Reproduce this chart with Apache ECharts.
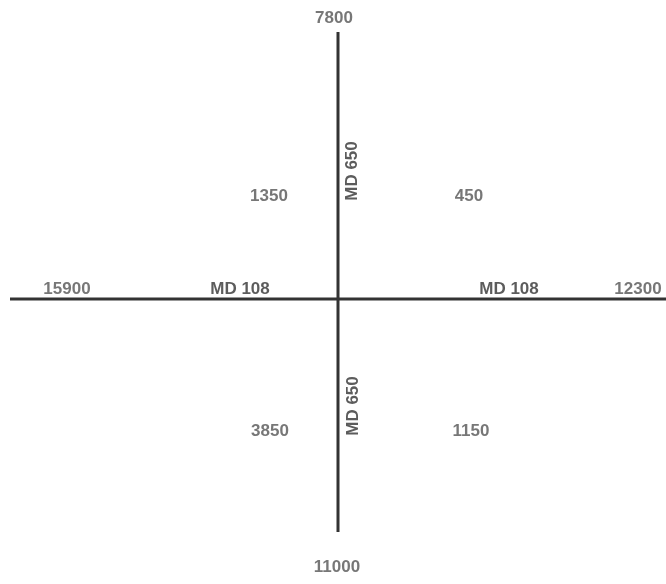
<!DOCTYPE html>
<html>
<head>
<meta charset="utf-8">
<script src="https://cdn.jsdelivr.net/npm/echarts@6/dist/echarts.min.js"></script>
<style>html,body{margin:0;padding:0;background:#fff}#c{width:666px;height:584px}</style>
</head>
<body>
<div id="c"></div>
<script>
// Data
const approachNames = ['North', 'South', 'West', 'East'];
const approachVolumes = [7800, 11000, 15900, 12300];
const quadrantNames = ['NW', 'NE', 'SW', 'SE'];
const quadrantVolumes = [1350, 450, 3850, 1150];
const roadLabels = ['MD 108', 'MD 108', 'MD 650', 'MD 650'];

// Layout (diagram units, intersection at 0,0)
const approachPos = [[-4, 281], [-1, -268], [-271, 10], [300, 10]];
const quadrantPos = [[-69, 103], [131, 103], [-68, -132], [133, -132]];
const roadPos = [[-98, 10], [171, 10], [14, 128], [15, -107]];
const roadRotate = [0, 0, 90, 90];
const hRoad = [[-328, 0], [328, 0]];
const vRoad = [[0, 267], [0, -233]];

const txt = {color: '#555', fontFamily: 'Liberation Sans, Arial, sans-serif', fontSize: 17, fontWeight: 'bold'};

const chart = echarts.init(document.getElementById('c'));
chart.setOption({
  backgroundColor: '#fff',
  animation: false,
  grid: {left: 0, right: 0, top: 0, bottom: 0},
  xAxis: {type: 'value', min: -338, max: 328, show: false},
  yAxis: {type: 'value', min: -285, max: 299, show: false},
  series: [
    {type: 'line', data: hRoad, symbol: 'none', lineStyle: {color: '#333', width: 3}},
    {type: 'line', data: vRoad, symbol: 'none', lineStyle: {color: '#333', width: 3}},
    {
      type: 'scatter', symbolSize: 0,
      data: approachVolumes.map((v, i) => ({name: approachNames[i], value: approachPos[i], label: {formatter: String(v)}})),
      label: Object.assign({show: true, position: 'inside'}, txt)
    },
    {
      type: 'scatter', symbolSize: 0,
      data: quadrantVolumes.map((v, i) => ({name: quadrantNames[i], value: quadrantPos[i], label: {formatter: String(v)}})),
      label: Object.assign({show: true, position: 'inside'}, txt)
    },
    {
      type: 'scatter', symbolSize: 0,
      data: roadLabels.map((r, i) => ({name: r, value: roadPos[i], label: {formatter: r, rotate: roadRotate[i]}})),
      label: Object.assign({}, txt, {show: true, position: 'inside', color: '#333'})
    }
  ]
});
</script>
</body>
</html>
